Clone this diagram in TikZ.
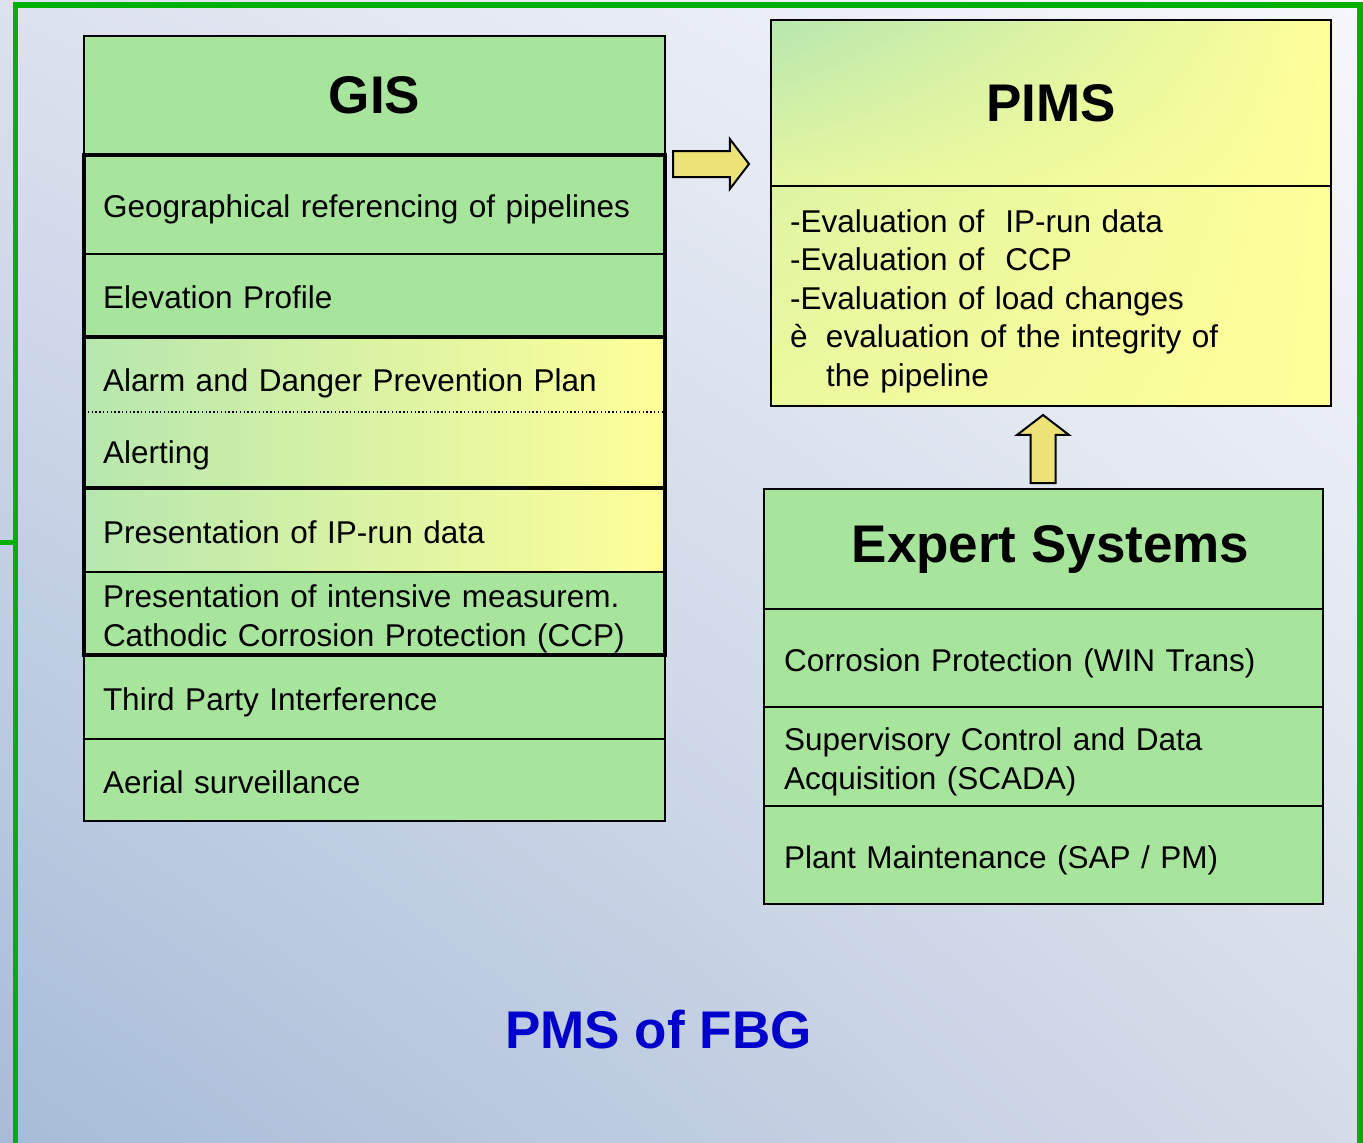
\documentclass[tikz,border=0pt]{standalone}
\usepackage{fontspec}
\setmainfont{Liberation Sans}
\usetikzlibrary{shapes.arrows,shadings}

\definecolor{gisgreen}{HTML}{A8E59C}
\definecolor{lightgreen}{HTML}{B6E7AE}
\definecolor{pimsyellow}{HTML}{FFFF99}
\definecolor{framegreen}{HTML}{00B000}
\definecolor{arrowyellow}{HTML}{EDE275}
\definecolor{titleblue}{HTML}{0000CC}
\definecolor{bgtl}{HTML}{DCE2EE}
\definecolor{bgtr}{HTML}{F7F8FC}
\definecolor{bgbl}{HTML}{A7BCD8}
\definecolor{bgbr}{HTML}{D5DCE8}

\begin{document}
\begin{tikzpicture}[x=0.5pt,y=-0.5pt,
  box/.style={draw,line width=1pt,outer sep=0pt,anchor=north west,
    inner xsep=9.5pt,inner ysep=0pt,align=left,font=\fontsize{15.75}{19.25}\selectfont,
    execute at begin node={\rule{0pt}{1.06em}},
    execute at end node={\rule[-0.212em]{0pt}{0pt}}},
  gisrow/.style={box,minimum width=290.5pt,text width=271.5pt,minimum height=#1},
  exprow/.style={box,inner xsep=10pt,minimum width=279.5pt,text width=259.5pt,minimum height=#1},
  ingreen/.style={fill=gisgreen},
  inmix/.style={left color=lightgreen,right color=pimsyellow},
  head/.style={draw,line width=1pt,outer sep=0pt,anchor=north west,
    font=\fontsize{26.5}{30}\selectfont\bfseries},
  heavy/.style={line width=1.75pt},
  blockarrow/.style={single arrow,draw,line width=1pt,fill=arrowyellow,outer sep=0pt,
    anchor=tail,single arrow tip angle=105,single arrow head indent=0pt}]
 \clip (0,0) rectangle (1363,1142);
 \shade[upper left=bgtl,upper right=bgtr,lower left=bgbl,lower right=bgbr]
   (0,0) rectangle (1363,1142);
 \draw[framegreen,line width=2.75pt] (15.5,1150) |- (1360,5) -- (1360,1150);
 \draw[framegreen,line width=2.5pt] (0,542) -- (15.5,542);
 % GIS column
 \node[head,ingreen,minimum width=290.5pt,minimum height=59.5pt] (gis) at (84,36) {GIS};
 \node[gisrow=49.5pt,ingreen] (geo) at (84,155) {Geographical referencing of pipelines};
 \node[gisrow=41.5pt,ingreen] (elev) at (84,254) {Elevation Profile};
 \node[gisrow=37.5pt,inmix,draw=none,execute at begin node={\rule{0pt}{1.3em}}] (alarm) at (84,337)
   {Alarm and Danger Prevention Plan};
 \node[gisrow=38pt,inmix,draw=none] (alert) at (84,412) {Alerting};
 \node[gisrow=42pt,inmix] (iprun) at (84,488) {Presentation of IP-run data};
 \node[gisrow=41.5pt,ingreen] (intens) at (84,572)
   {Presentation of intensive measurem.\\Cathodic Corrosion Protection (CCP)};
 \node[gisrow=42pt,ingreen] (third) at (84,655) {Third Party Interference};
 \node[gisrow=41pt,ingreen] (aerial) at (84,739) {Aerial surveillance};
 \draw[line width=0.7pt,dash pattern=on 0.7pt off 1.2pt] (alarm.south west) -- (alarm.south east);
 \draw[heavy] (geo.north west) rectangle (elev.south east);
 \draw[heavy] (alarm.north west) rectangle (alert.south east);
 \draw[heavy] (iprun.north west) rectangle (intens.south east);
 % PIMS
 \node[head,minimum width=280pt,minimum height=83pt,
   upper left=lightgreen,lower left=lightgreen!35!pimsyellow,
   upper right=pimsyellow,lower right=pimsyellow] (pims) at (771,20) {PIMS};
 \node[box,minimum width=280pt,text width=261pt,minimum height=110pt,
   upper left=lightgreen!45!pimsyellow,lower left=lightgreen!25!pimsyellow,
   upper right=pimsyellow,lower right=pimsyellow] (pimsbody) at (771,186)
   {-Evaluation of\ \ IP-run data\\
    -Evaluation of\ \ CCP\\
    -Evaluation of load changes\\
    \makebox[18pt][l]{è}evaluation of the integrity of\\
    \hspace*{18pt}the pipeline};
 % Expert systems
 \node[head,ingreen,minimum width=279.5pt,minimum height=60pt] (expert) at (764,489)
   {\hspace*{7pt}Expert Systems};
 \node[exprow=49pt,ingreen] (corr) at (764,609) {Corrosion Protection (WIN Trans)};
 \node[exprow=49.5pt,ingreen] (scada) at (764,707) {Supervisory Control and Data\\Acquisition (SCADA)};
 \node[exprow=49pt,ingreen] (plant) at (764,806) {Plant Maintenance (SAP / PM)};
 % arrows
 \node[blockarrow,inner xsep=0pt,inner ysep=6pt,single arrow head extend=6pt,
   minimum height=38pt] (arrR) at (673,164) {};
 \node[blockarrow,inner xsep=5.75pt,inner ysep=0pt,single arrow head extend=6.75pt,
   minimum height=34pt,shape border rotate=90] (arrU) at (1043,483) {};
 \node[text=titleblue,font=\fontsize{26.5}{30}\selectfont\bfseries] (title) at (658.5,1030) {PMS of FBG};
\end{tikzpicture}
\end{document}
